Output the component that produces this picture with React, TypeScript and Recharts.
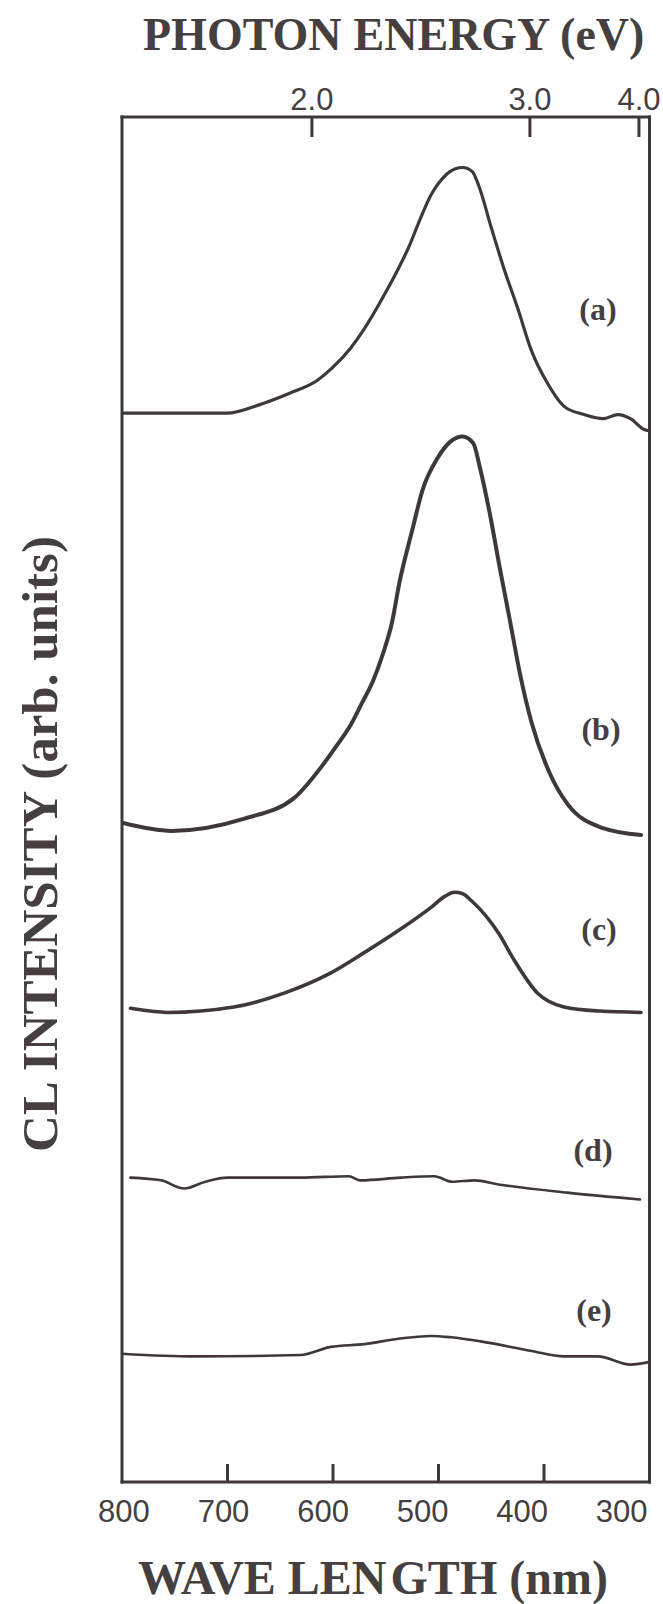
import { LineChart, Line, XAxis, YAxis } from 'recharts';

const INK = '#3e3838';
const TEXT_INK = '#463f40';
const SERIF = '"Liberation Serif", "Times New Roman", serif';
const SANS = '"Liberation Sans", Arial, sans-serif';

// CL spectra: wavelength (nm) and stacked intensity (arb. units, offsets included)
const nmA = [800, 701, 667, 640, 615, 601, 583, 571, 549, 538, 528, 517, 507, 495, 484, 477, 468, 462, 450, 438, 425, 412, 396, 381, 362, 344, 330, 318, 305, 300];
const valA = [78.3, 78.3, 79.0, 79.8, 80.7, 81.6, 83.1, 84.4, 87.3, 88.9, 90.5, 92.6, 94.3, 95.6, 96.2, 96.3, 96.0, 95.0, 91.9, 88.9, 86.0, 82.9, 80.4, 78.8, 78.2, 77.9, 78.2, 77.9, 77.1, 77.0];

const nmB = [800, 753, 684, 637, 610, 596, 583, 573, 562, 553, 544, 537, 525, 515, 501, 489, 477, 467, 461, 451, 442, 432, 423, 412, 395, 378, 344, 308];
const valB = [48.3, 47.7, 48.6, 50.1, 52.5, 54.0, 55.5, 57.0, 58.7, 60.6, 63.0, 65.9, 69.7, 72.7, 75.0, 76.2, 76.6, 76.1, 74.4, 70.8, 67.0, 63.0, 59.3, 55.7, 52.0, 49.7, 47.9, 47.4];

const nmC = [792, 757, 694, 647, 602, 570, 538, 507, 494, 485, 477, 469, 443, 428, 406, 381, 347, 308];
const valC = [34.7, 34.4, 34.8, 35.8, 37.3, 38.8, 40.4, 42.1, 42.9, 43.2, 43.1, 42.6, 40.2, 38.2, 35.8, 34.8, 34.5, 34.4];

const nmD = [792, 763, 741, 721, 700, 631, 585, 574, 536, 504, 487, 466, 443, 378, 309];
const valD = [22.3, 22.1, 21.5, 22.0, 22.3, 22.3, 22.4, 22.1, 22.3, 22.4, 22.0, 22.1, 21.8, 21.2, 20.7];

const nmE = [800, 732, 631, 602, 570, 538, 507, 488, 460, 412, 381, 349, 318, 300];
const valE = [9.4, 9.2, 9.3, 9.9, 10.1, 10.5, 10.7, 10.6, 10.3, 9.6, 9.2, 9.2, 8.6, 8.8];

const wavelengthTicks = [800, 700, 600, 500, 400, 300];
const wavelengthTickMarks = [700, 600, 500, 400];
const energyTicks = [2.0, 3.0, 4.0];
// the printed wavelength numbers sit on a slightly tighter spacing than the tick marks
const wavelengthLabelDomain = [272, 802];

const spectra = [
  { id: 'a', nm: nmA, val: valA, width: 3.2 },
  { id: 'b', nm: nmB, val: valB, width: 4 },
  { id: 'c', nm: nmC, val: valC, width: 3.6 },
  { id: 'd', nm: nmD, val: valD, width: 2.6 },
  { id: 'e', nm: nmE, val: valE, width: 2.6 },
];

// invisible series so the label-only axes get a scale
const axisAnchor = [
  { nm: 800, v: 0 },
  { nm: 300, v: 0 },
];

const curveLabels = [
  { text: '(a)', x: 598, y: 320 },
  { text: '(b)', x: 601, y: 740 },
  { text: '(c)', x: 599, y: 940 },
  { text: '(d)', x: 593, y: 1161 },
  { text: '(e)', x: 594, y: 1321 },
];

const frame = { stroke: INK, strokeWidth: 3, strokeLinecap: 'square' as const };
const tickText = { fill: TEXT_INK, fontSize: 31, fontFamily: SANS };

export default function App() {
  return (
    <div style={{ position: 'absolute', left: 0, top: 0, width: 663, height: 1604, background: '#fff' }}>
      <LineChart
        width={663}
        height={1604}
        margin={{ top: 87, right: 13.5, bottom: 82, left: 122 }}
      >
        <XAxis
          xAxisId="nm"
          type="number"
          dataKey="nm"
          domain={[300, 800]}
          reversed
          allowDataOverflow
          orientation="bottom"
          mirror
          ticks={wavelengthTickMarks}
          interval={0}
          tickSize={18}
          tickFormatter={() => ''}
          tickLine={{ stroke: INK, strokeWidth: 3 }}
          axisLine={frame}
        />
        <XAxis
          xAxisId="nmLabels"
          type="number"
          dataKey="nm"
          domain={wavelengthLabelDomain}
          reversed
          allowDataOverflow
          orientation="bottom"
          height={40}
          ticks={wavelengthTicks}
          interval={0}
          tickSize={0}
          tickMargin={18}
          tickLine={false}
          axisLine={false}
          tick={tickText}
        />
        <XAxis
          xAxisId="ev"
          type="number"
          dataKey="nm"
          domain={[300, 800]}
          reversed
          allowDataOverflow
          orientation="top"
          height={30}
          ticks={energyTicks.map((e) => 1240 / e)}
          tickFormatter={(nm: number) => (1240 / nm).toFixed(1)}
          interval={0}
          tickSize={-20}
          tickMargin={27}
          tickLine={{ stroke: INK, strokeWidth: 3 }}
          axisLine={frame}
          tick={tickText}
        />
        <YAxis yAxisId="left" orientation="left" mirror domain={[0, 100]} tick={false} tickLine={false} axisLine={frame} />
        <YAxis yAxisId="right" orientation="right" mirror domain={[0, 100]} tick={false} tickLine={false} axisLine={frame} />
        <Line xAxisId="nmLabels" yAxisId="left" data={axisAnchor} dataKey="v" stroke="none" dot={false} activeDot={false} isAnimationActive={false} />
        <Line xAxisId="ev" yAxisId="right" data={axisAnchor} dataKey="v" stroke="none" dot={false} activeDot={false} isAnimationActive={false} />
        {spectra.map((s) => (
          <Line
            key={s.id}
            xAxisId="nm"
            yAxisId="left"
            data={s.nm.map((nm, i) => ({ nm, v: s.val[i] }))}
            dataKey="v"
            type="monotone"
            stroke={INK}
            strokeWidth={s.width}
            strokeLinejoin="round"
            strokeLinecap="round"
            dot={false}
            activeDot={false}
            isAnimationActive={false}
          />
        ))}
      </LineChart>
      <svg
        width={663}
        height={1604}
        style={{ position: 'absolute', left: 0, top: 0, pointerEvents: 'none' }}
      >
        <text x={143} y={50} fontFamily={SERIF} fontWeight="bold" fontSize={46} fill={TEXT_INK}>
          PHOTON<tspan dx={12}>ENERGY (eV)</tspan>
        </text>
        <text x={138} y={1594} fontFamily={SERIF} fontWeight="bold" fontSize={48} fill={TEXT_INK}>
          WAVE LEN<tspan dx={4}>GTH (nm)</tspan>
        </text>
        <text
          transform="translate(57,1152) rotate(-90)"
          fontFamily={SERIF}
          fontWeight="bold"
          fontSize={51}
          fill={TEXT_INK}
        >
          CL INTENSITY (arb. units)
        </text>
        {curveLabels.map((l) => (
          <text key={l.text} x={l.x} y={l.y} textAnchor="middle" fontFamily={SERIF} fontWeight="bold" fontSize={32} fill={TEXT_INK}>
            {l.text}
          </text>
        ))}
      </svg>
    </div>
  );
}
